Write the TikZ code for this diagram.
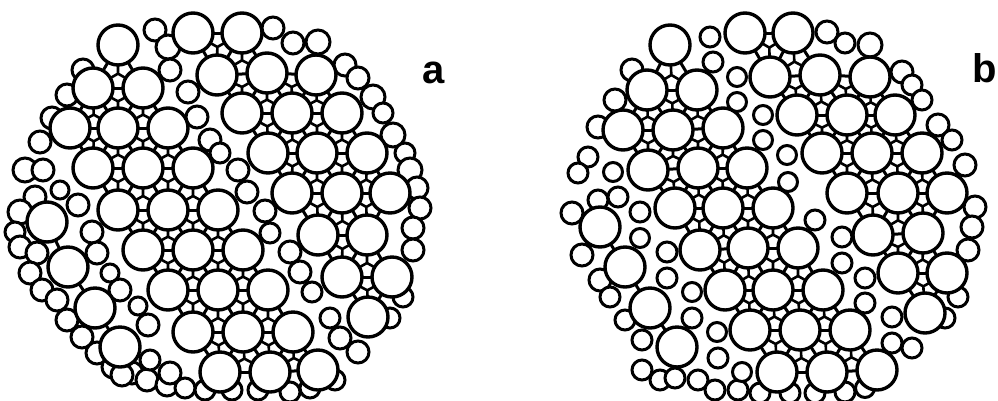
\documentclass[tikz,border=0pt]{standalone}
\usepackage{fontspec}
\setsansfont{Liberation Sans}
\pgfdeclarelayer{back}
\pgfsetlayers{back,main}
\newcommand\drawnecks[2]{%
  \foreach \x/\y [count=\i] in #2 {
    \foreach \u/\v [count=\j] in #2 {
      \ifnum\j>\i
        \pgfmathsetmacro\mydist{veclen(\u-\x,\v-\y)}
        \ifdim\mydist pt<56pt
          \draw[neck] (#1\i.center) -- (#1\j.center);
          \foreach \p/\q [count=\k] in #2 {
            \ifnum\k>\j
              \pgfmathsetmacro\dA{veclen(\p-\x,\q-\y)}
              \pgfmathsetmacro\dB{veclen(\p-\u,\q-\v)}
              \ifdim\dA pt<56pt \ifdim\dB pt<56pt
                \coordinate (ctr) at (barycentric cs:#1\i=1,#1\j=1,#1\k=1);
                \draw[ystar] (ctr) -- (#1\i.center) (ctr) -- (#1\j.center) (ctr) -- (#1\k.center);
              \fi \fi
            \fi
          }
        \fi
      \fi
    }
  }%
}
\begin{document}
\begin{tikzpicture}[x=1pt,y=-1pt,
  bigc/.style={circle,draw=black,fill=white,line width=3.4pt,inner sep=0pt,minimum size=40pt},
  smallc/.style={circle,draw=black,fill=white,line width=3pt,inner sep=0pt},
  neck/.style={draw=black,line width=3pt},
  ystar/.style={draw=black,line width=2.6pt},
  lbl/.style={font=\sffamily\bfseries\fontsize{40}{40}\selectfont,anchor=base,inner sep=0pt}]
\useasboundingbox (0,0) rectangle (998,400);
% ---------- panel a ----------
\def\smallA{83/70/11, 67/95/11, 52/118/11, 40/142/11, 25/170/12, 43/170/11,
 60/190/9, 35/197/11, 20/212/12, 15/232/10, 20/247/11, 37/253/11, 30/273/11, 42/290/11, 57/300/11,
 67/320/11, 82/337/11, 97/353/11, 113/367/11, 132/373/11, 147/380/11, 167/385/11,
 185/388/10, 205/390/10, 232/390/10, 258/390/10, 290/392/10, 310/388/10, 335/380/10,
 155/30/11, 168/47/12, 170/70/11, 188/92/11, 197/117/11, 210/140/11, 220/153/10,
 238/170/11, 247/192/11, 265/211/11, 270/233/10, 290/252/11, 300/272/11,
 312/292/10, 330/318/10, 340/338/11, 358/352/11,
 78/205/11, 92/232/11, 97/253/11, 110/273/9, 120/290/11, 138/306/9, 148/325/11, 150/360/10, 170/373/11, 122/375/11,
 273/28/11, 293/43/11, 318/42/12, 345/65/11, 358/78/11, 373/97/12, 383/113/10,
 393/135/12, 405/153/10, 410/170/12, 417/188/11, 420/208/11, 413/228/11, 413/250/11,
 403/297/10, 390/318/10}
\def\bigA{118/45, 193/33, 242/33,
 93/88, 143/88, 217/75, 267/73, 316/75,
 70/128, 118/128, 168/128, 242/113, 292/113, 342/113,
 93/168, 143/168, 193/168, 268/153, 317/153, 367/153,
 47/222, 118/210, 168/210, 218/210, 292/193, 342/193, 390/193,
 68/267, 143/250, 193/250, 243/250, 318/235, 367/235,
 95/308, 168/290, 218/290, 268/290, 342/277, 392/277,
 120/347, 193/332, 243/332, 293/332, 368/317,
 220/372, 270/372, 318/370}
% ---------- panel b ----------
\def\smallB{632/70/11, 615/100/11, 598/127/11, 588/157/10, 578/173/10, 613/172/9.5,
 598/200/10, 618/197/10, 572/213/11, 582/255/11, 600/280/11, 610/297/10, 625/320/10,
 642/340/10, 642/370/10, 660/380/10, 675/378/10, 698/380/10, 715/390/10, 738/390/10,
 760/393/10, 790/393/10, 815/393/10, 845/392/10, 865/388/9.5,
 710/37/10, 713/62/10, 737/77/9.5, 737/102/9.5, 763/115/9.5, 763/140/9.5, 787/155/9.5, 788/182/9.5,
 815/220/10, 842/237/10, 842/263/10, 865/278/10, 865/303/10, 892/317/10, 892/343/10, 912/348/10,
 640/212/10, 640/238/9.5, 667/252/10, 667/278/10, 692/292/9.5, 692/318/10, 717/332/9.5, 718/358/10, 742/372/9.5,
 827/32/11, 845/43/10, 870/45/12, 902/72/11, 912/85/10, 922/100/10, 938/125/11, 952/140/10,
 965/165/11, 975/207/11, 972/227/11, 968/250/11, 958/297/10, 945/318/10}
\def\bigB{670/45, 745/33, 793/33,
 647/90, 697/90, 770/77, 820/75, 870/77,
 623/130, 673/130, 723/128, 797/115, 847/115, 895/115,
 648/170, 698/168, 747/168, 822/153, 872/153, 922/153,
 600/227, 675/208, 723/208, 773/208, 847/193, 898/193, 947/193,
 625/267, 700/250, 748/248, 798/248, 873/235, 923/233,
 650/308, 725/290, 773/290, 823/290, 898/273, 947/273,
 677/347, 750/330, 800/330, 850/330, 925/313,
 777/372, 827/372, 877/370}
% small circles
\foreach \x/\y/\r [count=\i] in \smallA
  \node[smallc,minimum size=\r*2pt] (sa\i) at (\x,\y) {};
\foreach \x/\y/\r [count=\i] in \smallB
  \node[smallc,minimum size=\r*2pt] (sb\i) at (\x,\y) {};
% big circles
\foreach \x/\y [count=\i] in \bigA
  \node[bigc] (A\i) at (\x,\y) {};
\foreach \x/\y [count=\i] in \bigB
  \node[bigc] (B\i) at (\x,\y) {};
% necks and interstice marks, under the big circles
\begin{pgfonlayer}{back}
\drawnecks{A}{\bigA}
\drawnecks{B}{\bigB}
\end{pgfonlayer}
% labels
\node[lbl] (la) at (434,83) {a};
\node[lbl] (lb) at (985,82) {b};
\end{tikzpicture}
\end{document}
